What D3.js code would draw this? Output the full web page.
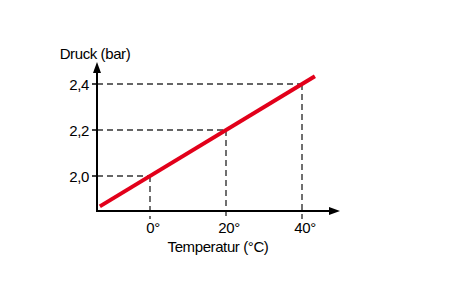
<!DOCTYPE html>
<html><head><meta charset="utf-8">
<script src="https://cdn.jsdelivr.net/npm/d3@7"></script>
<style>body{margin:0;background:#fff}</style>
</head><body>
<svg id="c" width="450" height="300"></svg>
<script>
const xTicks = [0, 20, 40];
const xTickLabels = ["0°", "20°", "40°"];
const yTicks = [2.0, 2.2, 2.4];
const yTickLabels = ["2,0", "2,2", "2,4"];
const lineX = [-13.2, 43.4];
const lineY = [1.868, 2.434];
const xTitle = "Temperatur (°C)";
const yTitle = "Druck (bar)";

const svg = d3.select("#c");
const font = "'Liberation Sans', Arial, sans-serif";
const fs = 15, ls = -0.4;
const x = d3.scaleLinear().domain([0, 40]).range([150, 302]);
const y = d3.scaleLinear().domain([2.0, 2.4]).range([176, 84]);
const x0 = 97, y0 = 211;

// dashed guides
const pts = xTicks.map((t, i) => ({x: t, y: yTicks[i]}));
svg.selectAll("line.h").data(pts).enter().append("line")
  .attr("x1", x0).attr("x2", d => x(d.x)).attr("y1", d => y(d.y)).attr("y2", d => y(d.y))
  .attr("stroke", "#333").attr("stroke-width", 1.4).attr("stroke-dasharray", "6,4");
svg.selectAll("line.v").data(pts).enter().append("line")
  .attr("x1", d => x(d.x)).attr("x2", d => x(d.x)).attr("y1", d => y(d.y)).attr("y2", 219)
  .attr("stroke", "#333").attr("stroke-width", 1.4).attr("stroke-dasharray", "6,4");

// axes
svg.append("line").attr("x1", x0).attr("x2", x0).attr("y1", y0 + 1).attr("y2", 70)
  .attr("stroke", "#000").attr("stroke-width", 2);
svg.append("line").attr("x1", x0 - 1).attr("x2", 332).attr("y1", y0).attr("y2", y0)
  .attr("stroke", "#000").attr("stroke-width", 2);
svg.append("path").attr("d", `M${x0},62 L${x0-4},73 L${x0+4},73 Z`).attr("fill", "#000");
svg.append("path").attr("d", `M340,${y0} L329,${y0-4} L329,${y0+4} Z`).attr("fill", "#000");

// y ticks
svg.selectAll("line.yt").data(yTicks).enter().append("line")
  .attr("x1", x0 - 5).attr("x2", x0).attr("y1", d => y(d)).attr("y2", d => y(d))
  .attr("stroke", "#000").attr("stroke-width", 1.5);
svg.selectAll("text.yl").data(yTicks).enter().append("text")
  .attr("x", x0 - 8).attr("y", d => y(d) + 6).attr("text-anchor", "end")
  .attr("font-family", font).attr("font-size", fs).attr("letter-spacing", ls)
  .text((d, i) => yTickLabels[i]);

svg.selectAll("text.xl").data(xTicks).enter().append("text")
  .attr("x", d => x(d) + 3).attr("y", 233).attr("text-anchor", "middle")
  .attr("font-family", font).attr("font-size", fs).attr("letter-spacing", ls)
  .text((d, i) => xTickLabels[i]);

svg.append("text").attr("x", 218).attr("y", 252).attr("text-anchor", "middle")
  .attr("font-family", font).attr("font-size", fs).attr("letter-spacing", ls).text(xTitle);
svg.append("text").attr("x", 95).attr("y", 59).attr("text-anchor", "middle")
  .attr("font-family", font).attr("font-size", fs).attr("letter-spacing", ls).text(yTitle);

// red line
const data = lineX.map((v, i) => [v, lineY[i]]);
svg.append("path").datum(data)
  .attr("d", d3.line().x(d => x(d[0])).y(d => y(d[1])))
  .attr("stroke", "#e2001a").attr("stroke-width", 4).attr("fill", "none");
</script>
</body></html>
